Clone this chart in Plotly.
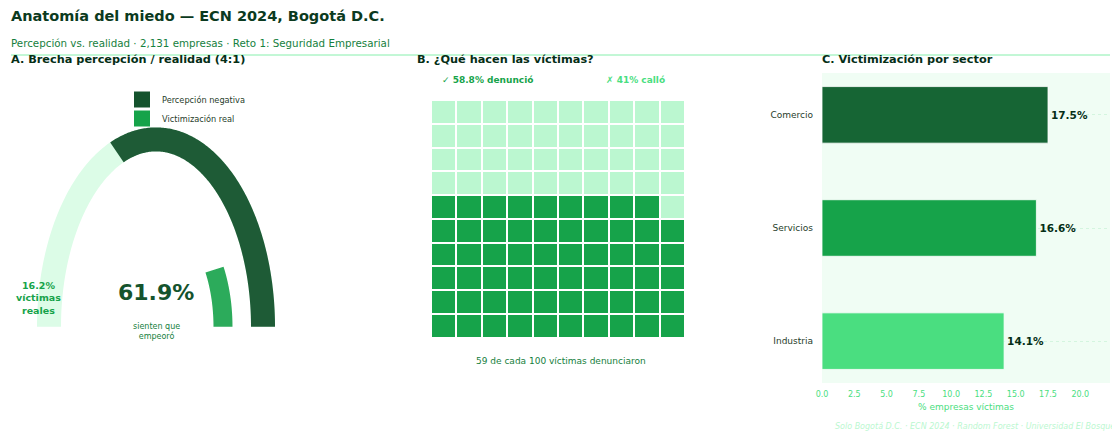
import numpy as np
import plotly.graph_objects as go

# ---------------- data ----------------
perception_negative = 61.9   # % sienten que empeoró
real_victimization = 16.2    # % víctimas reales
reported_pct = 58.8          # % denunció
silent_pct = 41              # % calló
reported_of_100 = 59         # waffle count
n_firms = 2131
sectors = ["Comercio", "Servicios", "Industria"]
sector_rates = [17.5, 16.6, 14.1]
sector_colors = ["#166534", "#16a34a", "#4ade80"]

W, H = 1120, 433
FONT = "DejaVu Sans"
OFF = 8  # page body margin


def px(x):
    return (x - OFF) / W


def py(y):
    return 1 - (y - OFF) / H


fig = go.Figure()

# ---------------- Panel A: gauge ----------------
R_OUT, R_IN = 1.0, 0.626
t_track = np.linspace(np.pi, 0, 240)
fig.add_trace(go.Scatter(
    x=R_OUT * np.cos(t_track), y=R_OUT * np.sin(t_track), mode="lines",
    line=dict(color="#dcfce7", width=24, simplify=False), hoverinfo="skip",
    showlegend=False, xaxis="x", yaxis="y"))
t_perc = np.linspace(np.pi * perception_negative / 100, 0, 200)
fig.add_trace(go.Scatter(
    x=R_OUT * np.cos(t_perc), y=R_OUT * np.sin(t_perc), mode="lines",
    line=dict(color="#14532d", width=24, simplify=False), opacity=0.95,
    name="Percepción negativa", showlegend=False, xaxis="x", yaxis="y"))
t_real = np.linspace(np.pi * real_victimization / 100, 0, 100)
fig.add_trace(go.Scatter(
    x=R_IN * np.cos(t_real), y=R_IN * np.sin(t_real), mode="lines",
    line=dict(color="#16a34a", width=19, simplify=False), opacity=0.9,
    name="Victimización real", showlegend=False, xaxis="x", yaxis="y"))
# legend entries
for nm, col in [("Percepción negativa", "#14532d"), ("Victimización real", "#16a34a")]:
    fig.add_trace(go.Scatter(
        x=[None], y=[None], mode="markers", name=nm,
        marker=dict(symbol="square", size=16, color=col),
        xaxis="x", yaxis="y", showlegend=True))

# ---------------- Panel B: waffle ----------------
z = [[1 if r * 10 + c < reported_of_100 else 0 for c in range(10)] for r in range(10)]
fig.add_trace(go.Heatmap(
    z=z, x=list(range(10)), y=list(range(10)), xgap=2, ygap=2,
    zmin=0, zmax=1, showscale=False, hoverinfo="skip",
    colorscale=[[0, "#bbf7d0"], [0.5, "#bbf7d0"], [0.5, "#16a34a"], [1, "#16a34a"]],
    xaxis="x2", yaxis="y2"))

# ---------------- Panel C: sector bars ----------------
fig.add_trace(go.Bar(
    x=sector_rates, y=sectors, orientation="h", width=0.5,
    marker=dict(color=sector_colors, line=dict(color="white", width=0.8)),
    text=[f"<b>{v:.1f}%</b>" for v in sector_rates], textposition="outside",
    textfont=dict(family=FONT, size=10.5, color="#052e16"),
    cliponaxis=False, showlegend=False, xaxis="x3", yaxis="y3"))

# ---------------- layout ----------------
gx0, gx1 = 8, 312
cx, cy = 156, 326.7
sx, sy = 107, 187.3
layout = dict(
    width=W, height=H,
    margin=dict(l=0, r=0, t=0, b=0, autoexpand=False),
    paper_bgcolor="white", plot_bgcolor="rgba(0,0,0,0)",
    font=dict(family=FONT, color="#052e16"),
    title=dict(text="<b>Anatomía del miedo — ECN 2024, Bogotá D.C.</b>",
               x=px(11), xanchor="left", xref="paper",
               y=py(16), yanchor="middle", yref="container",
               font=dict(size=14.5, color="#0b3a20", family=FONT)),
    xaxis=dict(domain=[px(gx0), px(gx1)], range=[(gx0 - cx) / sx, (gx1 - cx) / sx],
               visible=False, fixedrange=True, anchor="y"),
    yaxis=dict(domain=[py(390), py(70)], range=[(cy - 390) / sy, (cy - 70) / sy],
               visible=False, fixedrange=True, anchor="x"),
    xaxis2=dict(domain=[px(431), px(685)], range=[-0.5, 9.5], visible=False, anchor="y2"),
    yaxis2=dict(domain=[py(337.5), py(100)], range=[-0.5, 9.5], visible=False, anchor="x2"),
    xaxis3=dict(domain=[px(822), px(1110)], range=[0, 22.3], tick0=0, dtick=2.5,
                anchor="y3", automargin=False, ticklabelstandoff=5,
                tickformat=".1f", showgrid=False, zeroline=False, showline=False,
                ticks="", tickfont=dict(size=8, color="#4ade80"),
                title=dict(text="% empresas víctimas", standoff=5,
                           font=dict(size=9, color="#4ade80"))),
    yaxis3=dict(domain=[py(383), py(73)], type="category", range=[2.37, -0.37],
                anchor="x3", automargin=False,
                showgrid=True, gridcolor="#d4f5df", griddash="dot", gridwidth=1,
                zeroline=False, showline=False, ticks="", ticklabelstandoff=8,
                tickfont=dict(size=9, color="#1f3d2b")),
    legend=dict(x=px(122), y=py(85), xanchor="left", yanchor="top",
                font=dict(size=8.2, color="#1f3d2b"), bgcolor="rgba(0,0,0,0)",
                tracegroupgap=0),
)
fig.update_layout(**layout)

# panel C background
fig.add_shape(type="rect", xref="x3 domain", yref="y3 domain", x0=0, x1=1, y0=0, y1=1,
              fillcolor="#f0fdf4", line=dict(width=0), layer="below")
# separator line
fig.add_shape(type="line", xref="paper", yref="paper", x0=px(11), x1=px(1110),
              y0=py(55), y1=py(55), line=dict(color="#86efac", width=1))

ann = []


def add(text, x, y, size, color, xanchor="center", bold=False, italic=False):
    t = text
    if bold:
        t = f"<b>{t}</b>"
    if italic:
        t = f"<i>{t}</i>"
    ann.append(dict(text=t, x=px(x), y=py(y), xref="paper", yref="paper",
                    xanchor=xanchor, yanchor="middle", showarrow=False,
                    font=dict(size=size, color=color, family=FONT)))


add(f"Percepción vs. realidad · {n_firms:,} empresas · Reto 1: Seguridad Empresarial",
    9, 43, 10.3, "#15803d", xanchor="left")
add("A. Brecha percepción / realidad (4:1)", 9, 59, 11.3, "#052e16", "left", bold=True)
add("B. ¿Qué hacen las víctimas?", 415, 59, 11.3, "#052e16", "left", bold=True)
add("C. Victimización por sector", 820, 59, 11.3, "#052e16", "left", bold=True)

add(f"{perception_negative}%", 156, 292, 22, "#14532d", bold=True)
add("sienten que<br>empeoró", 156, 331, 8, "#15803d")
add(f"{real_victimization}%<br>víctimas<br>reales", 38, 298, 9.5, "#16a34a", bold=True)

add(f"✓ {reported_pct}% denunció", 487, 80, 9, "#16a34a", bold=True)
add(f"✗ {silent_pct}% calló", 635, 80, 9, "#4ade80", bold=True)
add(f"{reported_of_100} de cada 100 víctimas denunciaron", 561, 361, 9, "#15803d")

add("Solo Bogotá D.C. · ECN 2024 · Random Forest · Universidad El Bosque",
    1117, 426, 8, "#bbf7d0", xanchor="right", italic=True)

fig.update_layout(annotations=ann)
fig.write_html("out.html")
